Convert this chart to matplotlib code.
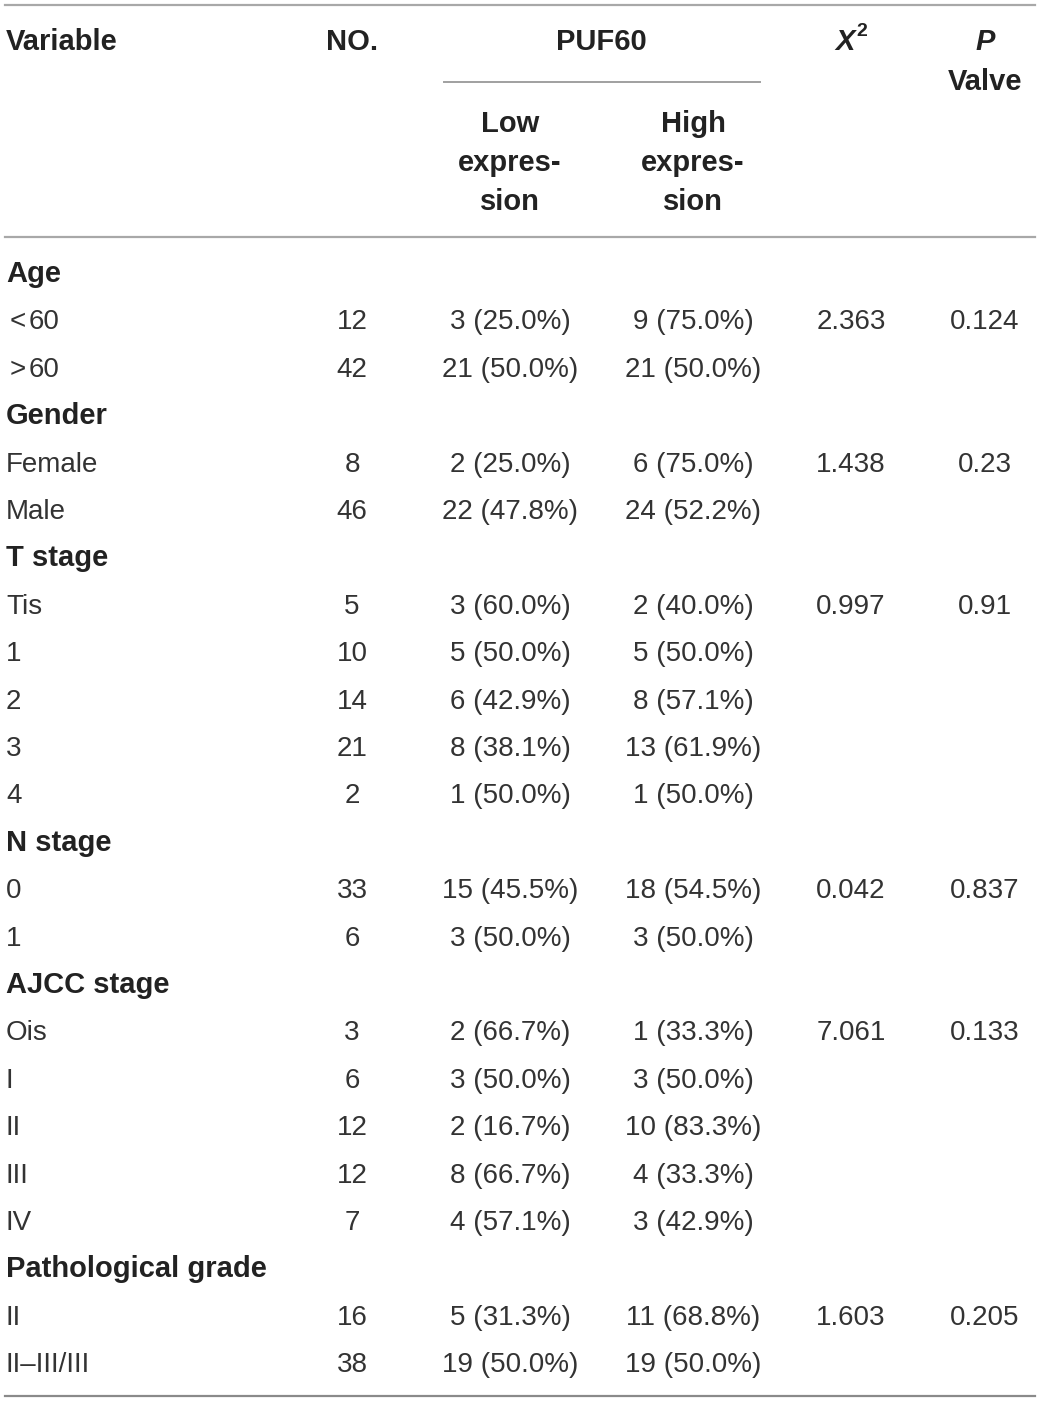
import matplotlib.pyplot as plt

plt.rcParams['font.family'] = ['Liberation Sans', 'DejaVu Sans']

groups = ["Age", "Gender", "T stage", "N stage", "AJCC stage", "Pathological grade"]
levels = [["<60", ">60"], ["Female", "Male"], ["Tis", "1", "2", "3", "4"],
          ["0", "1"], ["Ois", "I", "II", "III", "IV"], ["II", "II\u2013III/III"]]
n_total = [[12, 42], [8, 46], [5, 10, 14, 21, 2], [33, 6], [3, 6, 12, 12, 7], [16, 38]]
low_n = [[3, 21], [2, 22], [3, 5, 6, 8, 1], [15, 3], [2, 3, 2, 8, 4], [5, 19]]
low_pct = [[25.0, 50.0], [25.0, 47.8], [60.0, 50.0, 42.9, 38.1, 50.0], [45.5, 50.0],
           [66.7, 50.0, 16.7, 66.7, 57.1], [31.3, 50.0]]
high_n = [[9, 21], [6, 24], [2, 5, 8, 13, 1], [18, 3], [1, 3, 10, 4, 3], [11, 19]]
high_pct = [[75.0, 50.0], [75.0, 52.2], [40.0, 50.0, 57.1, 61.9, 50.0], [54.5, 50.0],
            [33.3, 50.0, 83.3, 33.3, 42.9], [68.8, 50.0]]
chi2 = ["2.363", "1.438", "0.997", "0.042", "7.061", "1.603"]
pval = ["0.124", "0.23", "0.91", "0.837", "0.133", "0.205"]

W, H = 1040, 1402
fig = plt.figure(figsize=(W / 100, H / 100), dpi=100)
ax = fig.add_axes([0, 0, 1, 1])
ax.set_xlim(0, W)
ax.set_ylim(H, 0)
ax.axis('off')

txt = '#333333'
bold_c = '#222222'
fs = 20
bfs = 21

# columns
x_lab, x_no, x_low, x_high, x_chi, x_p = 6, 352, 510, 693, 851, 985

# rules
ax.plot([5, 1035], [5, 5], color='#a8a8a8', lw=1.6)
ax.plot([444, 760], [82, 82], color='#a0a0a0', lw=1.4)
ax.plot([5, 1035], [237, 237], color='#a8a8a8', lw=1.6)
ax.plot([5, 1035], [1396, 1396], color='#8a8a8a', lw=1.6)

# header
hk = dict(fontsize=bfs, fontweight='bold', color=bold_c, va='baseline')
ax.text(x_lab, 50, "Variable", ha='left', **hk)
ax.text(x_no, 50, "NO.", ha='center', **hk)
ax.text(601, 50, "PUF60", ha='center', **hk)
ax.text(855, 50, "X", ha='right', fontstyle='italic', **hk)
ax.text(856, 36, "2", ha='left', fontsize=14, fontweight='bold', color=bold_c, va='baseline')
ax.text(x_p, 50, "P", ha='center', fontstyle='italic', **hk)
ax.text(x_p, 90, "Valve", ha='center', **hk)
for yb, a, b in [(132, "Low", "High"), (171, "expres-", "expres-"), (210, "sion", "sion")]:
    ax.text(x_low, yb, a, ha='center', **hk)
    ax.text(x_high, yb, b, ha='center', **hk)

# body
y0, step = 282, 47.4
row = 0
for g in range(len(groups)):
    yb = y0 + step * row
    ax.text(x_lab, yb, groups[g], ha='left', fontsize=bfs, fontweight='bold',
            color=bold_c, va='baseline')
    row += 1
    for k in range(len(levels[g])):
        yb = y0 + step * row
        kw = dict(fontsize=fs, color=txt, va='baseline')
        lab = levels[g][k]
        if lab[0] in "<>":
            # the relation signs sit with a little space round them
            ax.text(x_lab + 4, yb, lab[0], ha='left', **kw)
            ax.text(x_lab + 23, yb, lab[1:], ha='left', **kw)
        else:
            ax.text(x_lab, yb, lab, ha='left', **kw)
        ax.text(x_no, yb, str(n_total[g][k]), ha='center', **kw)
        ax.text(x_low, yb, "%d (%.1f%%)" % (low_n[g][k], low_pct[g][k]), ha='center', **kw)
        ax.text(x_high, yb, "%d (%.1f%%)" % (high_n[g][k], high_pct[g][k]), ha='center', **kw)
        if k == 0:
            ax.text(x_chi, yb, chi2[g], ha='center', **kw)
            ax.text(x_p, yb, pval[g], ha='center', **kw)
        row += 1

fig.savefig('out.png', dpi=100)
